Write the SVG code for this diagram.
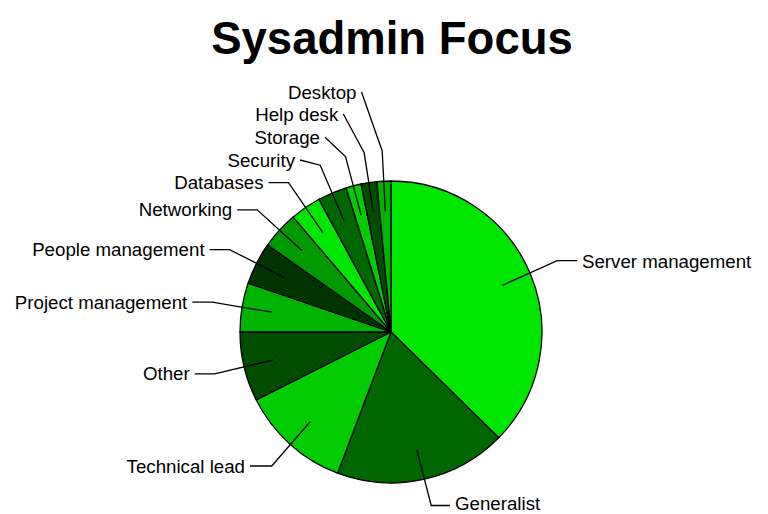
<svg xmlns="http://www.w3.org/2000/svg" width="768" height="514" viewBox="0 0 768 514">
<style>
.s{stroke:#000;stroke-width:1.3;stroke-linejoin:round}
.l{fill:none;stroke:#000;stroke-width:1.3}
.t{font-family:"Liberation Sans",Arial,sans-serif;font-size:18.7px;fill:#000}
.e{text-anchor:end}
.title{font-family:"Liberation Sans",Arial,sans-serif;font-size:45.5px;font-weight:bold;text-anchor:middle;fill:#000}
</style>
<rect width="768" height="514" fill="#fff"/>
<text class="title" x="392" y="53.5">Sysadmin Focus</text>
<g id="slices">
<path id="server-management" class="s" fill="#00e600" d="M391,332 L391,181 A151,151 0 0 1 498.7,437.8 Z"/>
<path id="generalist" class="s" fill="#006600" d="M391,332 L498.7,437.8 A151,151 0 0 1 337.6,473.2 Z"/>
<path id="technical-lead" class="s" fill="#00cc00" d="M391,332 L337.6,473.2 A151,151 0 0 1 256.1,399.8 Z"/>
<path id="other" class="s" fill="#004d00" d="M391,332 L256.1,399.8 A151,151 0 0 1 240,332 Z"/>
<path id="project-management" class="s" fill="#00b300" d="M391,332 L240,332 A151,151 0 0 1 248.1,283.1 Z"/>
<path id="people-management" class="s" fill="#003300" d="M391,332 L248.1,283.1 A151,151 0 0 1 267.6,245 Z"/>
<path id="networking" class="s" fill="#009900" d="M391,332 L267.6,245 A151,151 0 0 1 293.1,217 Z"/>
<path id="databases" class="s" fill="#00e600" d="M391,332 L293.1,217 A151,151 0 0 1 318.9,199.3 Z"/>
<path id="security" class="s" fill="#006600" d="M391,332 L318.9,199.3 A151,151 0 0 1 346.1,187.8 Z"/>
<path id="storage" class="s" fill="#00cc00" d="M391,332 L346.1,187.8 A151,151 0 0 1 361.1,184 Z"/>
<path id="help-desk" class="s" fill="#004d00" d="M391,332 L361.1,184 A151,151 0 0 1 376.8,181.7 Z"/>
<path id="desktop" class="s" fill="#00b300" d="M391,332 L376.8,181.7 A151,151 0 0 1 391,181 Z"/>
</g>
<g id="connectors">
<polyline class="l" points="577.3,260.7 557.2,260.7 502.4,285.3"/>
<polyline class="l" points="450,505.5 431.2,505.5 416.9,450"/>
<polyline class="l" points="250,466 271.7,466 310.2,421.8"/>
<polyline class="l" points="194.7,373.8 214.7,373.8 273.5,359.9"/>
<polyline class="l" points="192.3,302.2 212.3,302.2 271.8,312.2"/>
<polyline class="l" points="209.6,249.6 229.6,249.6 283.4,277.1"/>
<polyline class="l" points="237.2,209.8 257.2,209.8 301.8,250.5"/>
<polyline class="l" points="268.5,182.6 288.5,182.6 322.7,232.4"/>
<polyline class="l" points="300,160 320.2,165.2 344,220.7"/>
<polyline class="l" points="325,137.3 345.5,156.6 361.1,215"/>
<polyline class="l" points="343.3,114 364.2,152.8 373.4,212.5"/>
<polyline class="l" points="361.5,92 382.2,151 385.3,211.3"/>
</g>
<g id="labels">
<text id="lbl-server" class="t" x="582" y="267.5">Server management</text>
<text id="lbl-generalist" class="t" x="455" y="510">Generalist</text>
<text id="lbl-tech" class="t e" x="245" y="472.6">Technical lead</text>
<text id="lbl-other" class="t e" x="189.7" y="380.4">Other</text>
<text id="lbl-project" class="t e" x="187.3" y="308.8">Project management</text>
<text id="lbl-people" class="t e" x="204.6" y="256.2">People management</text>
<text id="lbl-networking" class="t e" x="232.2" y="216.4">Networking</text>
<text id="lbl-databases" class="t e" x="263.5" y="189.2">Databases</text>
<text id="lbl-security" class="t e" x="295" y="166.6">Security</text>
<text id="lbl-storage" class="t e" x="320" y="143.9">Storage</text>
<text id="lbl-helpdesk" class="t e" x="338.3" y="120.6">Help desk</text>
<text id="lbl-desktop" class="t e" x="356.5" y="98.6">Desktop</text>
</g>
</svg>
